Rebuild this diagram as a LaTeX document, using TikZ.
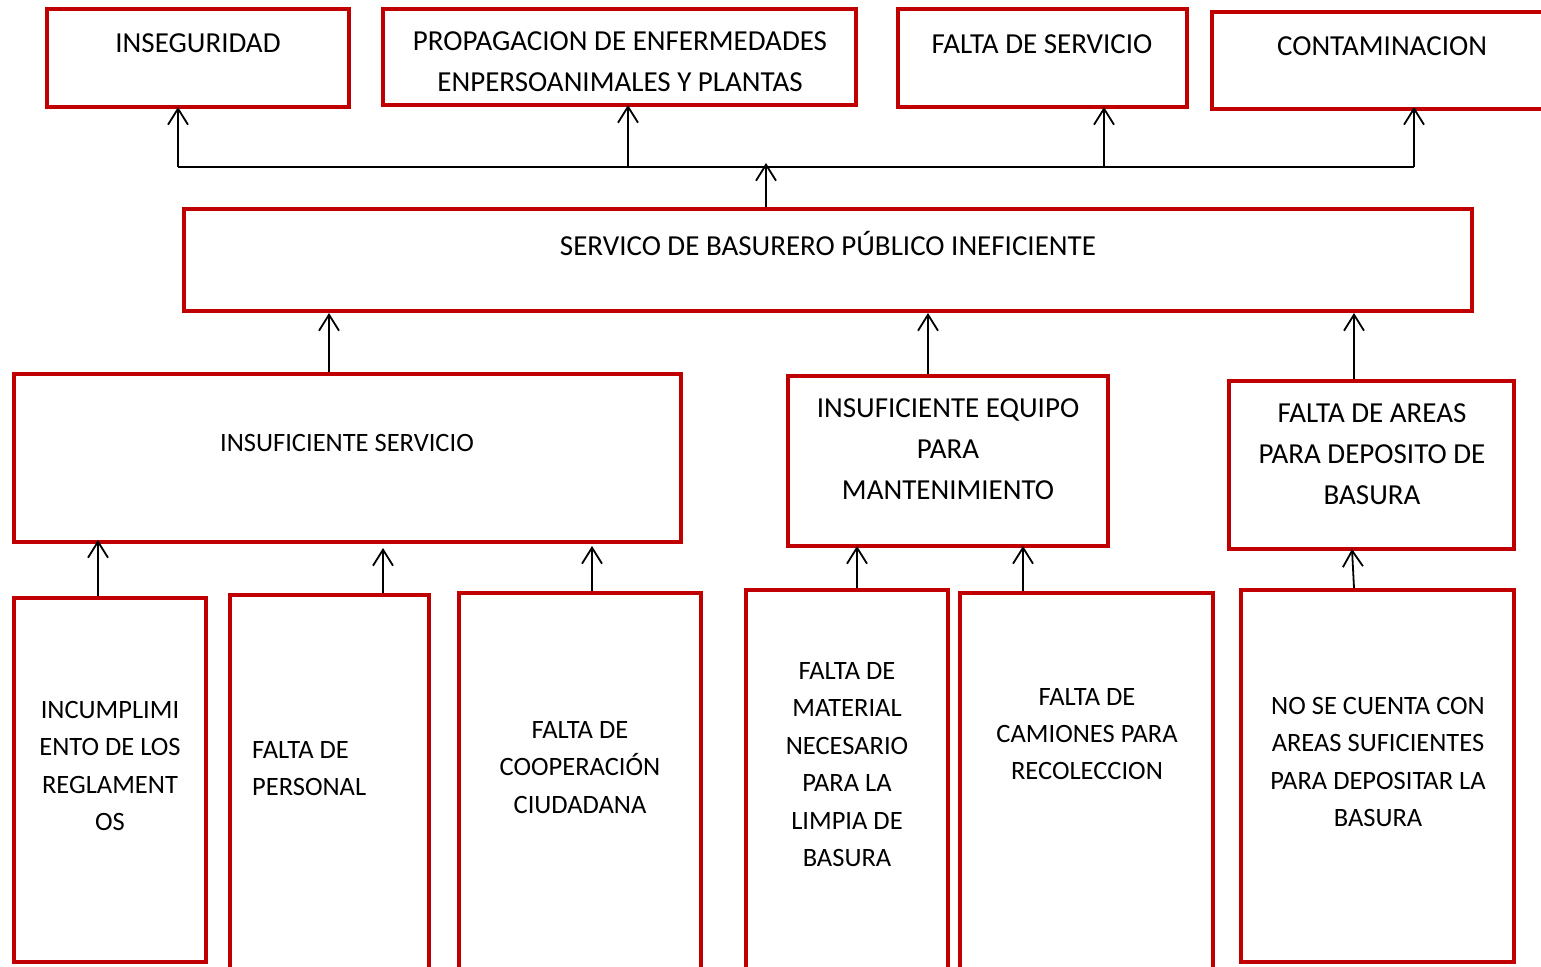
\documentclass[tikz,border=0pt]{standalone}
\usepackage{fontspec}
\setmainfont{Carlito}
\usetikzlibrary{arrows.meta,calc}
\definecolor{boxred}{HTML}{C00000}
\begin{document}
\begin{tikzpicture}[x=1pt,y=-1pt,
  box/.style={draw=boxred, line width=4pt, fill=white, rectangle, inner sep=0pt},
  big/.style={inner sep=0pt, align=center, font=\fontsize{29}{41}\selectfont},
  small/.style={inner sep=0pt, align=center, font=\fontsize{26.5}{37.4}\selectfont},
  arr/.style={draw=black, line width=1.8pt, -{Straight Barb[length=16pt,width=20pt,line width=1.8pt]}},
  conn/.style={draw=black, line width=1.8pt}]
\clip (0,0) rectangle (1541,966);
\fill[white] (0,0) rectangle (1541,966);

% top row
\node[box, minimum width=302, minimum height=98] (ins) at (198,58) {};
\node[box, minimum width=473, minimum height=96] (prop) at (619.5,57) {};
\node[box, minimum width=289, minimum height=98] (fserv) at (1042.5,58) {};
\node[box, minimum width=348, minimum height=97] (cont) at (1386,60.5) {};
\node[big] (insT) at (198,43) {INSEGURIDAD};
\node[big] (propT) at (620,61.5) {PROPAGACION DE ENFERMEDADES\\ENPERSOANIMALES Y PLANTAS};
\node[big] (fservT) at (1042,44) {FALTA DE SERVICIO};
\node[big] (contT) at (1382,46) {CONTAMINACION};

% central problem
\node[box, minimum width=1288, minimum height=102] (serv) at (828,260) {};
\node[big] (servT) at (828,243) {SERVICO DE BASURERO PÚBLICO INEFICIENTE};

% middle row
\node[box, minimum width=667, minimum height=168] (insS) at (347.5,458) {};
\node[box, minimum width=320, minimum height=170] (insE) at (948,461) {};
\node[box, minimum width=285, minimum height=168] (fareas) at (1371.5,465) {};
\node[small] (insST) at (347,443) {INSUFICIENTE SERVICIO};
\node[big] (insET) at (948,449) {INSUFICIENTE EQUIPO\\PARA\\MANTENIMIENTO};
\node[big] (fareasT) at (1372,454) {FALTA DE AREAS\\PARA DEPOSITO DE\\BASURA};

% bottom row
\node[box, minimum width=192, minimum height=364] (incum) at (110,780) {};
\node[box, minimum width=199, minimum height=390] (fper) at (329.5,790) {};
\node[box, minimum width=242, minimum height=392] (fcoop) at (580,789) {};
\node[box, minimum width=202, minimum height=395] (fmat) at (847,787.5) {};
\node[box, minimum width=253, minimum height=392] (fcam) at (1086.5,789) {};
\node[box, minimum width=273, minimum height=372] (nose) at (1377.5,776) {};
\node[small] (incumT) at (110,766) {INCUMPLIMI\\ENTO DE LOS\\REGLAMENT\\OS};
\node[small, align=left, anchor=west] (fperT) at (252,768.5) {FALTA DE\\PERSONAL};
\node[small] (fcoopT) at (580,767.5) {FALTA DE\\COOPERACIÓN\\CIUDADANA};
\node[small] (fmatT) at (847,764.5) {FALTA DE\\MATERIAL\\NECESARIO\\PARA LA\\LIMPIA DE\\BASURA};
\node[small] (fcamT) at (1087,734) {FALTA DE\\CAMIONES PARA\\RECOLECCION};
\node[small] (noseT) at (1378,762) {NO SE CUENTA CON\\AREAS SUFICIENTES\\PARA DEPOSITAR LA\\BASURA};

% effects connectors
\coordinate (jL) at ($(ins.south)+(-20,58)$);
\coordinate (cx) at ($(cont.south)+(28,0)$);
\coordinate (jR) at (cx |- jL);
\coordinate (px) at ($(prop.south)+(8.5,0)$);
\coordinate (fx) at ($(fserv.south)+(61.5,0)$);
\draw[conn] (jL) -- (jR);
\draw[arr] (jL) -- ($(ins.south)+(-20,-2)$);
\draw[arr] (px |- jL) -- ($(px)+(0,-2)$);
\draw[arr] (fx |- jL) -- ($(fx)+(0,-2)$);
\draw[arr] (jR) -- ($(cx)+(0,-4)$);
\draw[arr] ($(serv.north)+(-62,0)$) -- ($(serv.north)+(-62,-44)$);

% causes to central problem
\draw[arr] ($(insS.north)+(-18.5,0)$) -- ($(serv.south)+(-499,0)$);
\draw[arr] ($(insE.north)+(-20,0)$) -- ($(serv.south)+(100,0)$);
\draw[arr] ($(fareas.north)+(-17.5,0)$) -- ($(serv.south)+(526,0)$);

% sub-causes
\draw[arr] ($(incum.north)+(-12,0)$) -- ($(insS.south)+(-249.5,-4)$);
\draw[arr] ($(fper.north)+(53.5,0)$) -- ($(insS.south)+(35.5,4)$);
\draw[arr] ($(fcoop.north)+(12,0)$) -- ($(insS.south)+(244.5,2)$);
\draw[arr] ($(fmat.north)+(10,0)$) -- ($(insE.south)+(-91,-2)$);
\draw[arr] ($(fcam.north)+(-63.5,0)$) -- ($(insE.south)+(75,-2)$);
\draw[arr] ($(nose.north)+(-23.5,0)$) -- ($(fareas.south)+(-19.5,-2)$);
\end{tikzpicture}
\end{document}
